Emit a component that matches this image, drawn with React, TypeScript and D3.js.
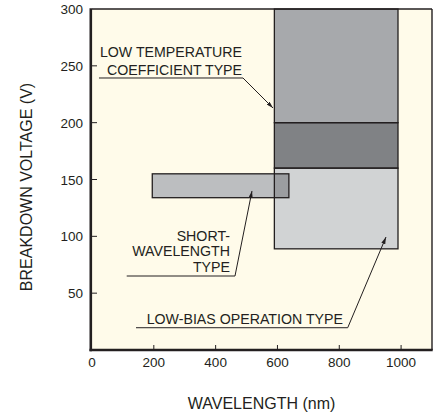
import React from "react";
import * as d3 from "d3";

// ---- data ----
const xTicks = [0, 200, 400, 600, 800, 1000];
const yTicks = [50, 100, 150, 200, 250, 300];

// regions (wavelength nm x breakdown voltage V)
const regionNames = ["LOW TEMPERATURE COEFFICIENT", "TRANSITION", "LOW-BIAS OPERATION", "SHORT-WAVELENGTH"];
const regionX0 = [590, 590, 590, 195];
const regionX1 = [990, 990, 990, 637];
const regionY0 = [200, 160, 89, 134];
const regionY1 = [300, 200, 160, 155];

// annotations (data coordinates)
const annoLines = [
  ["LOW TEMPERATURE", "COEFFICIENT TYPE"],
  ["SHORT-", "WAVELENGTH", "TYPE"],
  ["LOW-BIAS OPERATION TYPE"],
];
const annoTextX = [485.5, 446.5, 812];
const annoBaselines = [
  [257.8, 241.9],
  [96.2, 82.3, 68.9],
  [22.9],
];
const annoUnderY = [239.3, 65.1, 19.6];
const annoUnderX0 = [22.6, 112.3, 142.4];
const annoUnderX1 = [488.5, 462.6, 827.3];
const annoTipX = [585.6, 517.6, 951.2];
const annoTipY = [212.9, 139.9, 99.4];

// ---- styles ----
const regionFills = ["#a7a9ac", "#808285", "#d1d3d4", "#bcbec0"];
const overlapFill = "#9b9da0";
const bg = "#fffbea";
const ink = "#231f20";
const font = "'Liberation Sans', Arial, Helvetica, sans-serif";

const W = 436;
const H = 412;

export default function App() {
  const x = d3.scaleLinear().domain([0, 1100]).range([92, 432]);
  const y = d3.scaleLinear().domain([0, 300]).range([350, 9]);

  const rects = regionNames.map((n, i) => ({
    name: n,
    x0: x(regionX0[i]),
    x1: x(regionX1[i]),
    y0: y(regionY1[i]),
    y1: y(regionY0[i]),
    fill: regionFills[i],
  }));
  // overlap of short-wavelength with low-bias
  const sw = 3, lb = 2;
  const ox0 = Math.max(regionX0[sw], regionX0[lb]);
  const ox1 = Math.min(regionX1[sw], regionX1[lb]);
  const oy0 = Math.max(regionY0[sw], regionY0[lb]);
  const oy1 = Math.min(regionY1[sw], regionY1[lb]);

  const [xmin, xmax] = x.range();
  const [ybot, ytop] = y.range();

  return (
    <svg
      width={W}
      height={H}
      style={{ position: "absolute", left: 0, top: 0, background: "#ffffff" }}
      fontFamily={font}
    >
      <defs>
        <marker id="arr" viewBox="0 0 10 6" refX="10" refY="3" markerWidth="7" markerHeight="4.2" orient="auto" markerUnits="userSpaceOnUse">
          <path d="M0,0 L10,3 L0,6 Z" fill={ink} />
        </marker>
      </defs>
      <rect x={xmin} y={ytop} width={xmax - xmin} height={ybot - ytop} fill={bg} />

      {rects.map((r) => (
        <rect key={r.name} x={r.x0} y={r.y0} width={r.x1 - r.x0} height={r.y1 - r.y0} fill={r.fill} />
      ))}
      {ox1 > ox0 && oy1 > oy0 && (
        <rect x={x(ox0)} y={y(oy1)} width={x(ox1) - x(ox0)} height={y(oy0) - y(oy1)} fill={overlapFill} />
      )}
      {rects.map((r) => (
        <rect key={"s" + r.name} x={r.x0} y={r.y0} width={r.x1 - r.x0} height={r.y1 - r.y0} fill="none" stroke={ink} strokeWidth={1.3} />
      ))}

      {/* frame */}
      <line x1={xmin} x2={xmax} y1={ytop} y2={ytop} stroke={ink} strokeWidth={1.6} />
      <line x1={xmax} x2={xmax} y1={ytop} y2={ybot} stroke={ink} strokeWidth={1.4} />
      <line x1={xmin - 1.2} x2={xmin - 1.2} y1={ytop - 0.8} y2={ybot + 1.2} stroke={ink} strokeWidth={2.6} />
      <line x1={xmin - 2.5} x2={xmax + 0.7} y1={ybot} y2={ybot} stroke={ink} strokeWidth={2.6} />

      {/* x ticks */}
      {xTicks.map((t) => (
        <g key={"xt" + t}>
          {t > 0 && <line x1={x(t)} x2={x(t)} y1={ybot} y2={ybot - 5} stroke={ink} strokeWidth={1} />}
          <text x={x(t)} y={366.5} textAnchor="middle" fontSize={13.5} fill={ink}>{t}</text>
        </g>
      ))}
      {/* y ticks */}
      {yTicks.map((t) => (
        <g key={"yt" + t}>
          {t < 300 && <line x1={xmin} x2={xmin + 5} y1={y(t)} y2={y(t)} stroke={ink} strokeWidth={1} />}
          <text x={83} y={y(t) + 5} textAnchor="end" fontSize={13.5} fill={ink}>{t}</text>
        </g>
      ))}

      {/* annotations */}
      {annoLines.map((lines, i) => (
        <g key={"a" + i}>
          {lines.map((s, j) => (
            <text key={j} x={x(annoTextX[i])} y={y(annoBaselines[i][j])} textAnchor="end" fontSize={14.2} fill={ink}>{s}</text>
          ))}
          <polyline
            points={`${x(annoUnderX0[i])},${y(annoUnderY[i])} ${x(annoUnderX1[i])},${y(annoUnderY[i])} ${x(annoTipX[i])},${y(annoTipY[i])}`}
            fill="none"
            stroke={ink}
            strokeWidth={1}
            markerEnd="url(#arr)"
          />
        </g>
      ))}

      {/* axis titles */}
      <text x={261.5} y={409} textAnchor="middle" fontSize={16} fill={ink}>WAVELENGTH (nm)</text>
      <text transform={`translate(31.5,187) rotate(-90)`} textAnchor="middle" fontSize={16} fill={ink}>BREAKDOWN VOLTAGE (V)</text>
    </svg>
  );
}
